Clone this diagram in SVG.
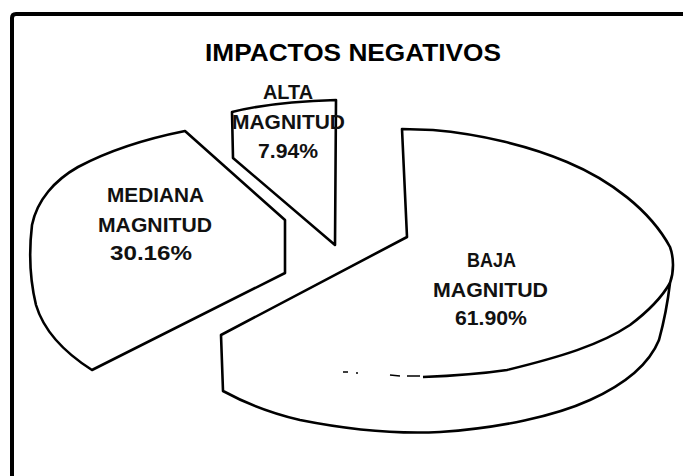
<svg xmlns="http://www.w3.org/2000/svg" width="683" height="476" viewBox="0 0 683 476">
<style>
.slice{fill:#fff;stroke:#000;stroke-width:2.6;stroke-linejoin:round}
.edge{fill:none;stroke:#000;stroke-width:2.6}
.lbl{font-family:"Liberation Sans",Arial,sans-serif;font-weight:bold;font-size:19.5px;fill:#111;text-anchor:middle}
.title{font-family:"Liberation Sans",Arial,sans-serif;font-weight:bold;font-size:23px;fill:#000;text-anchor:middle}
</style>
<rect width="683" height="476" fill="#fff"/>
<path d="M12,476 V18 Q12,14 16,14 H683" fill="none" stroke="#000" stroke-width="4"/>
<text class="title" x="353" y="61" textLength="296" lengthAdjust="spacingAndGlyphs">IMPACTOS NEGATIVOS</text>
<g id="mediana">
<path class="slice" d="M185,131 L285,220 L285,273 L92,370 C70,356 45,335 36,305 C30,280 29,250 32,225 C37,200 55,180 78,167 C110,150 150,138 185,131 Z"/>
<text class="lbl" x="155.5" y="202" textLength="97" lengthAdjust="spacingAndGlyphs">MEDIANA</text>
<text class="lbl" x="155" y="232" textLength="114" lengthAdjust="spacingAndGlyphs">MAGNITUD</text>
<text class="lbl" x="151" y="260" textLength="82" lengthAdjust="spacingAndGlyphs">30.16%</text>
</g>
<g id="alta">
<path class="slice" d="M232,112 C260,105 300,101 336,100 L335,245 L233,158 Z"/>
<text class="lbl" x="288" y="99" textLength="50" lengthAdjust="spacingAndGlyphs">ALTA</text>
<text class="lbl" x="288.5" y="129" textLength="113" lengthAdjust="spacingAndGlyphs">MAGNITUD</text>
<text class="lbl" x="288" y="158" textLength="60" lengthAdjust="spacingAndGlyphs">7.94%</text>
</g>
<g id="baja">
<path class="slice" d="M402,129 L433,130 C480,134 530,146 567,162 C610,180 650,210 670,247 C674,258 674,272 670,283 C668,300 665,318 659,340 C650,362 630,382 590,400 C555,416 500,428 440,432 C400,434 350,430 300,420 C270,413 245,403 223,391 L221,335 L407,237 Z"/>
<path class="edge" d="M670,283 C662,297 650,310 630,325 C600,345 560,357 507,370 C480,374 450,376 423,377"/>
<path d="M343,372 L348,372 M356,373 L358,373 M390,375 L400,376 M407,376 L420,376" fill="none" stroke="#000" stroke-width="1.5"/>
<text class="lbl" x="491.5" y="267" textLength="49" lengthAdjust="spacingAndGlyphs">BAJA</text>
<text class="lbl" x="490.5" y="297" textLength="115" lengthAdjust="spacingAndGlyphs">MAGNITUD</text>
<text class="lbl" x="491" y="325" textLength="72" lengthAdjust="spacingAndGlyphs">61.90%</text>
</g>
</svg>
